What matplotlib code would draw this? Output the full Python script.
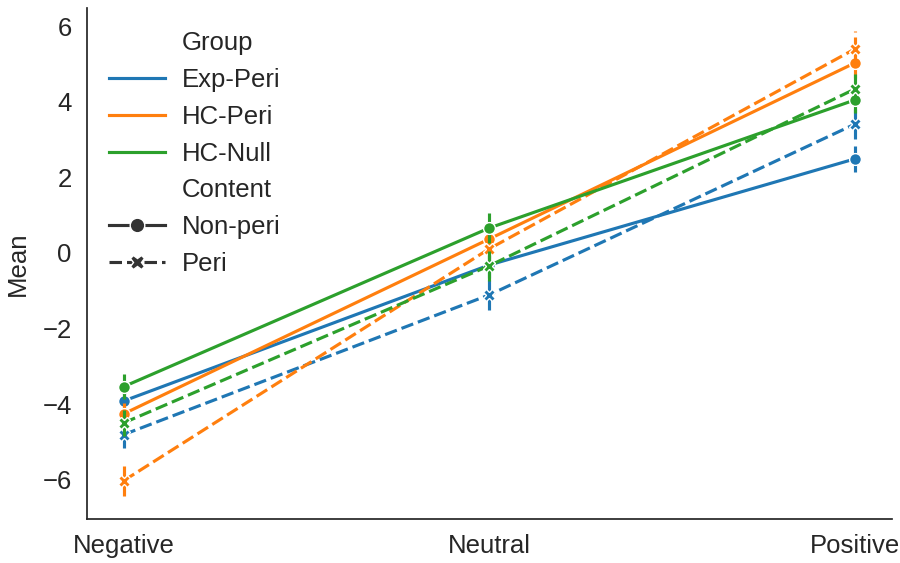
import numpy as np
import matplotlib
matplotlib.use("Agg")
import matplotlib.pyplot as plt
from matplotlib.lines import Line2D

plt.rcParams['font.family'] = ['Liberation Sans', 'DejaVu Sans']

# categories on the x axis
valence = ['Negative', 'Neutral', 'Positive']
groups = ['Exp-Peri', 'HC-Peri', 'HC-Null']
colors = ['#1f77b4', '#ff7f0e', '#2ca02c']
contents = ['Non-peri', 'Peri']

# mean values (Negative, Neutral, Positive)
mean_nonperi = {
    'Exp-Peri': [-3.92, -0.32, 2.49],
    'HC-Peri': [-4.26, 0.37, 5.03],
    'HC-Null': [-3.54, 0.66, 4.05],
}
mean_peri = {
    'Exp-Peri': [-4.81, -1.11, 3.41],
    'HC-Peri': [-6.03, 0.11, 5.40],
    'HC-Null': [-4.50, -0.34, 4.34],
}
# half width of the error bars
err_nonperi = {
    'Exp-Peri': [0.30, 0.35, 0.35],
    'HC-Peri': [0.30, 0.35, 0.40],
    'HC-Null': [0.33, 0.40, 0.35],
}
err_peri = {
    'Exp-Peri': [0.35, 0.40, 0.40],
    'HC-Peri': [0.40, 0.40, 0.47],
    'HC-Null': [0.35, 0.40, 0.40],
}

fig = plt.figure(figsize=(9, 5.63), dpi=100)
ax = fig.add_axes([0.0967, 0.078, 0.894, 0.908])

x = np.arange(len(valence))
lw = 2.25
styles = {'Non-peri': ('-', 'o', 8.5), 'Peri': ((0, (4, 1.6)), 'X', 9)}

for g, c in zip(groups, colors):
    for content, means, errs in [('Non-peri', mean_nonperi, err_nonperi),
                                 ('Peri', mean_peri, err_peri)]:
        ls, mk, ms = styles[content]
        m = np.array(means[g])
        e = np.array(errs[g])
        ax.vlines(x, m - e, m + e, colors=c, linestyles=ls, linewidth=lw)
        ax.plot(x, m, color=c, linestyle=ls, linewidth=lw, marker=mk,
                markersize=ms, markeredgecolor='white', markeredgewidth=1)

ax.set_xticks(x)
ax.set_xticklabels(valence)
ax.set_ylabel('Mean', fontsize=18.5, color='#262626', labelpad=9)
ax.tick_params(labelsize=18.5, colors='#262626', length=0, pad=11)
for s in ['top', 'right']:
    ax.spines[s].set_visible(False)
for s in ['left', 'bottom']:
    ax.spines[s].set_color('#262626')
    ax.spines[s].set_linewidth(1.25)

handles = [Line2D([], [], linestyle='', label='Group')]
for g, c in zip(groups, colors):
    handles.append(Line2D([], [], color=c, linewidth=lw, label=g))
handles.append(Line2D([], [], linestyle='', label='Content'))
for content in contents:
    ls, mk, ms = styles[content]
    handles.append(Line2D([], [], color='#333333', linestyle=ls, linewidth=lw,
                          marker=mk, markersize=10.5, markeredgecolor='white',
                          markeredgewidth=1, label=content))
leg = ax.legend(handles=handles, loc='upper left', frameon=False,
                fontsize=18.5, handlelength=2.2, labelspacing=0.5,
                handletextpad=0.65, borderaxespad=0.6,
                bbox_to_anchor=(-0.005, 1.005))
for t in leg.get_texts():
    t.set_color('#262626')

fig.savefig('out.png', dpi=100)
